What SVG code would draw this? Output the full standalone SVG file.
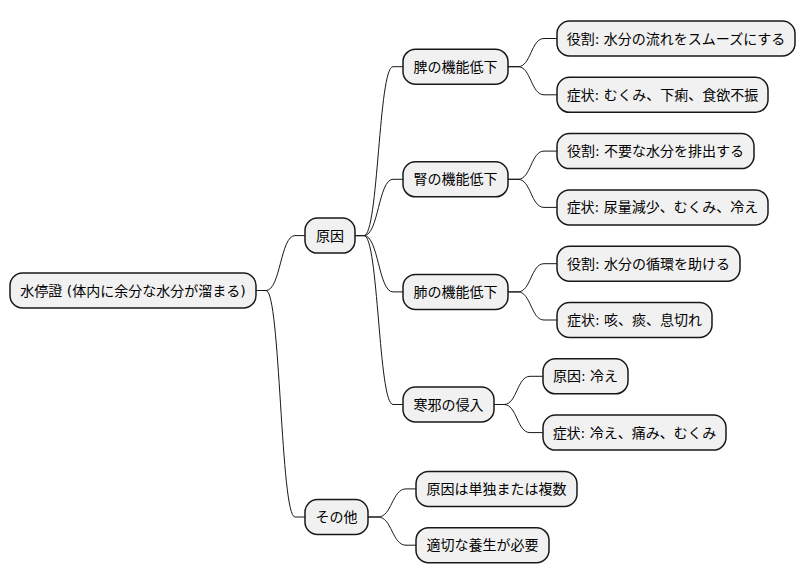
<svg xmlns="http://www.w3.org/2000/svg" width="807" height="583" viewBox="0 0 807 583">
<style>
.n rect{fill:#F1F1F1;stroke:#181818;stroke-width:1.5}
.n text{font-family:"DejaVu Sans","Noto Sans CJK JP",sans-serif;font-size:14px;fill:#000;text-anchor:middle}
#edges path{fill:none;stroke:#181818;stroke-width:1}
</style>
<rect width="807" height="583" fill="#FFFFFF"/>
<g id="edges">
<path d="M256,290.5 H266 C280.5,290.5 280.5,235.6 295,235.6 H305"/>
<path d="M256,290.5 H266 C280.5,290.5 280.5,517 295,517 H305"/>
<path d="M355,235.6 H364 C378.5,235.6 378.5,66.7 393,66.7 H403"/>
<path d="M355,235.6 H364 C378.5,235.6 378.5,179.3 393,179.3 H403"/>
<path d="M355,235.6 H364 C378.5,235.6 378.5,291.9 393,291.9 H403"/>
<path d="M355,235.6 H364 C378.5,235.6 378.5,404.5 393,404.5 H403"/>
<path d="M368,517 H378 C392,517 392,488.9 406,488.9 H416"/>
<path d="M368,517 H378 C392,517 392,545.2 406,545.2 H416"/>
<path d="M508,66.7 H518 C531,66.7 531,38.5 544,38.5 H557"/>
<path d="M508,66.7 H518 C531,66.7 531,94.8 544,94.8 H557"/>
<path d="M508,179.3 H518 C531,179.3 531,151.1 544,151.1 H557"/>
<path d="M508,179.3 H518 C531,179.3 531,207.4 544,207.4 H557"/>
<path d="M508,291.9 H518 C531,291.9 531,263.7 544,263.7 H557"/>
<path d="M508,291.9 H518 C531,291.9 531,320 544,320 H557"/>
<path d="M494,404.5 H504 C517,404.5 517,376.3 530,376.3 H543"/>
<path d="M494,404.5 H504 C517,404.5 517,432.6 530,432.6 H543"/>
</g>
<g id="root" class="n"><rect x="10" y="273" width="246" height="35" rx="12.5"/><text x="133" y="295.5">水停證 (体内に余分な水分が溜まる)</text></g>
<g id="cause" class="n"><rect x="305" y="218.1" width="50" height="35" rx="12.5"/><text x="330" y="240.6">原因</text></g>
<g id="other" class="n"><rect x="305" y="499.5" width="63" height="35" rx="12.5"/><text x="336.5" y="522">その他</text></g>
<g id="spleen" class="n"><rect x="403" y="49.2" width="105" height="35" rx="12.5"/><text x="455.5" y="71.7">脾の機能低下</text></g>
<g id="kidney" class="n"><rect x="403" y="161.8" width="105" height="35" rx="12.5"/><text x="455.5" y="184.3">腎の機能低下</text></g>
<g id="lung" class="n"><rect x="403" y="274.4" width="105" height="35" rx="12.5"/><text x="455.5" y="296.9">肺の機能低下</text></g>
<g id="cold" class="n"><rect x="403" y="387" width="91" height="35" rx="12.5"/><text x="448.5" y="409.5">寒邪の侵入</text></g>
<g id="spleen-role" class="n"><rect x="557" y="21" width="238" height="35" rx="12.5"/><text x="676" y="43.5">役割: 水分の流れをスムーズにする</text></g>
<g id="spleen-sym" class="n"><rect x="557" y="77.3" width="211" height="35" rx="12.5"/><text x="662.5" y="99.8">症状: むくみ、下痢、食欲不振</text></g>
<g id="kidney-role" class="n"><rect x="557" y="133.6" width="197" height="35" rx="12.5"/><text x="655.5" y="156.1">役割: 不要な水分を排出する</text></g>
<g id="kidney-sym" class="n"><rect x="557" y="189.9" width="211" height="35" rx="12.5"/><text x="662.5" y="212.4">症状: 尿量減少、むくみ、冷え</text></g>
<g id="lung-role" class="n"><rect x="557" y="246.2" width="183" height="35" rx="12.5"/><text x="648.5" y="268.7">役割: 水分の循環を助ける</text></g>
<g id="lung-sym" class="n"><rect x="557" y="302.5" width="155" height="35" rx="12.5"/><text x="634.5" y="325">症状: 咳、痰、息切れ</text></g>
<g id="cold-cause" class="n"><rect x="543" y="358.8" width="85" height="35" rx="12.5"/><text x="585.5" y="381.3">原因: 冷え</text></g>
<g id="cold-sym" class="n"><rect x="543" y="415.1" width="183" height="35" rx="12.5"/><text x="634.5" y="437.6">症状: 冷え、痛み、むくみ</text></g>
<g id="other-1" class="n"><rect x="416" y="471.4" width="161" height="35" rx="12.5"/><text x="496.5" y="493.9">原因は単独または複数</text></g>
<g id="other-2" class="n"><rect x="416" y="527.7" width="133" height="35" rx="12.5"/><text x="482.5" y="550.2">適切な養生が必要</text></g>
</svg>
